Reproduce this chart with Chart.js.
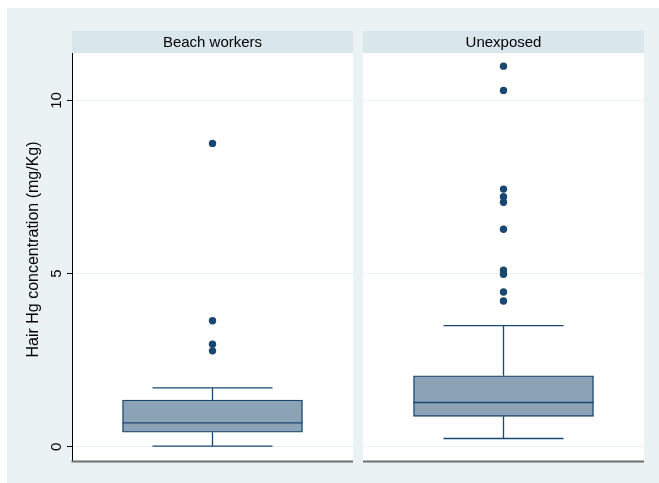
<!DOCTYPE html>
<html>
<head>
<meta charset="utf-8">
<script src="https://cdn.jsdelivr.net/npm/chart.js@4.4.1/dist/chart.umd.min.js"></script>
<style>
  html, body { margin: 0; padding: 0; background: #ffffff; }
  #c { display: block; }
</style>
</head>
<body>
<canvas id="c" width="659" height="483"></canvas>
<script>
// Box-plot summaries of hair mercury (mg/Kg) for each group
const GROUPS = ['Beach workers', 'Unexposed'];
const WHISKER_LOW = [0.02, 0.24];
const Q1 = [0.42, 0.88];
const MEDIAN = [0.69, 1.28];
const Q3 = [1.35, 2.05];
const WHISKER_HIGH = [1.70, 3.50];
const OUTLIERS_BEACH = [2.77, 2.96, 3.64, 8.76];
const OUTLIERS_UNEXPOSED = [4.21, 4.47, 4.98, 5.10, 6.28, 7.06, 7.22, 7.44, 10.29, 10.99];
const Y_TICKS = [0, 5, 10];
const Y_TITLE = 'Hair Hg concentration (mg/Kg)';

// Panel geometry in x-scale units: each panel is 1 unit wide, separated by a small gap
const PANEL_PX = 281;
const GAP = 10 / PANEL_PX;
const BOX_HALF = 90 / PANEL_PX;
const CAP_HALF = 60 / PANEL_PX;
const panelStart = i => i * (1 + GAP);
const panelCenter = i => panelStart(i) + 0.5;

const NAVY = '#1A476F';
const BOX_FILL = '#8CA3B7';
const OUTER_BG = '#EAF2F3';
const HEADER_BG = '#D9E6EB';
const FONT = '"Liberation Sans", Arial, Helvetica, sans-serif';

const outlierSets = [OUTLIERS_BEACH, OUTLIERS_UNEXPOSED];
const outlierPoints = [];
outlierSets.forEach((vals, i) => vals.forEach(v => outlierPoints.push({ x: panelCenter(i), y: v })));

const boxes = GROUPS.map((g, i) => ({ x: panelCenter(i), y: [Q1[i], Q3[i]] }));

// Whiskers and caps as broken polyline segments
const whiskerPoints = [];
const medianPoints = [];
GROUPS.forEach((g, i) => {
  const c = panelCenter(i);
  whiskerPoints.push(
    { x: c, y: Q3[i] }, { x: c, y: WHISKER_HIGH[i] }, { x: c, y: null },
    { x: c - CAP_HALF, y: WHISKER_HIGH[i] }, { x: c + CAP_HALF, y: WHISKER_HIGH[i] }, { x: c, y: null },
    { x: c, y: Q1[i] }, { x: c, y: WHISKER_LOW[i] }, { x: c, y: null },
    { x: c - CAP_HALF, y: WHISKER_LOW[i] }, { x: c + CAP_HALF, y: WHISKER_LOW[i] }, { x: c, y: null }
  );
  medianPoints.push(
    { x: c - BOX_HALF, y: MEDIAN[i] }, { x: c + BOX_HALF, y: MEDIAN[i] }, { x: c, y: null }
  );
});

// Background, panel areas and strip headers
const panelPlugin = {
  id: 'panels',
  beforeDraw(chart) {
    const { ctx, chartArea, scales } = chart;
    ctx.save();
    ctx.fillStyle = '#ffffff';
    ctx.fillRect(0, 0, chart.width, chart.height);
    ctx.fillStyle = OUTER_BG;
    ctx.fillRect(7, 8, chart.width - 7, chart.height - 8);
    GROUPS.forEach((g, i) => {
      const x0 = scales.x.getPixelForValue(panelStart(i));
      const x1 = scales.x.getPixelForValue(panelStart(i) + 1);
      ctx.fillStyle = '#ffffff';
      ctx.fillRect(x0, chartArea.top, x1 - x0, chartArea.bottom - chartArea.top);
      ctx.fillStyle = HEADER_BG;
      ctx.fillRect(x0, 31, x1 - x0, chartArea.top - 31);
      ctx.fillStyle = '#000000';
      ctx.font = '15px ' + FONT;
      ctx.textAlign = 'center';
      ctx.textBaseline = 'middle';
      ctx.fillText(g, (x0 + x1) / 2, (31 + chartArea.top) / 2 + 0.5);
    });
    ctx.restore();
  },
  afterDraw(chart) {
    const { ctx, chartArea, scales } = chart;
    ctx.save();
    // bottom axis line for each panel
    ctx.strokeStyle = '#6E6E6E';
    ctx.lineWidth = 2;
    GROUPS.forEach((g, i) => {
      const x0 = scales.x.getPixelForValue(panelStart(i));
      const x1 = scales.x.getPixelForValue(panelStart(i) + 1);
      ctx.beginPath();
      ctx.moveTo(x0 - (i === 0 ? 0.5 : 0), chartArea.bottom + 0.5);
      ctx.lineTo(x1, chartArea.bottom + 0.5);
      ctx.stroke();
    });
    // rotated tick labels
    ctx.fillStyle = '#000000';
    ctx.font = '15px ' + FONT;
    ctx.textAlign = 'center';
    ctx.textBaseline = 'middle';
    Y_TICKS.forEach(v => {
      const y = scales.y.getPixelForValue(v);
      ctx.save();
      ctx.translate(56.5, y);
      ctx.rotate(-Math.PI / 2);
      ctx.fillText(String(v), 0, 0);
      ctx.restore();
    });
    // axis title
    ctx.font = '16px ' + FONT;
    ctx.save();
    ctx.translate(34, 249.5);
    ctx.rotate(-Math.PI / 2);
    ctx.fillText(Y_TITLE, 0, 0);
    ctx.restore();
    ctx.restore();
  }
};

new Chart(document.getElementById('c').getContext('2d'), {
  type: 'bar',
  data: {
    datasets: [
      {
        type: 'scatter',
        data: outlierPoints,
        pointRadius: 3.7,
        pointBackgroundColor: NAVY,
        pointBorderWidth: 0,
        order: 0
      },
      {
        type: 'line',
        data: medianPoints,
        borderColor: NAVY,
        borderWidth: 1.4,
        pointRadius: 0,
        spanGaps: false,
        order: 1
      },
      {
        type: 'line',
        data: whiskerPoints,
        borderColor: NAVY,
        borderWidth: 1.3,
        pointRadius: 0,
        spanGaps: false,
        order: 1
      },
      {
        type: 'bar',
        data: boxes,
        backgroundColor: BOX_FILL,
        borderColor: NAVY,
        borderWidth: 1.4,
        borderSkipped: false,
        barThickness: 180,
        order: 2
      }
    ]
  },
  options: {
    responsive: false,
    animation: false,
    devicePixelRatio: 1,
    layout: { padding: { left: 0, right: 15, top: 53, bottom: 22 } },
    plugins: { legend: { display: false }, tooltip: { enabled: false } },
    scales: {
      x: { type: 'linear', min: 0, max: 2 + GAP, offset: false, display: false },
      y: {
        min: -0.41,
        max: 11.37,
        afterFit(s) { s.width = 72; },
        afterBuildTicks(s) { s.ticks = Y_TICKS.map(v => ({ value: v })); },
        ticks: { display: false },
        grid: { color: OUTER_BG, lineWidth: 1, drawTicks: true, tickLength: 5, tickColor: '#000000' },
        border: { color: '#000000', width: 1 }
      }
    }
  },
  plugins: [panelPlugin]
});
</script>
</body>
</html>
